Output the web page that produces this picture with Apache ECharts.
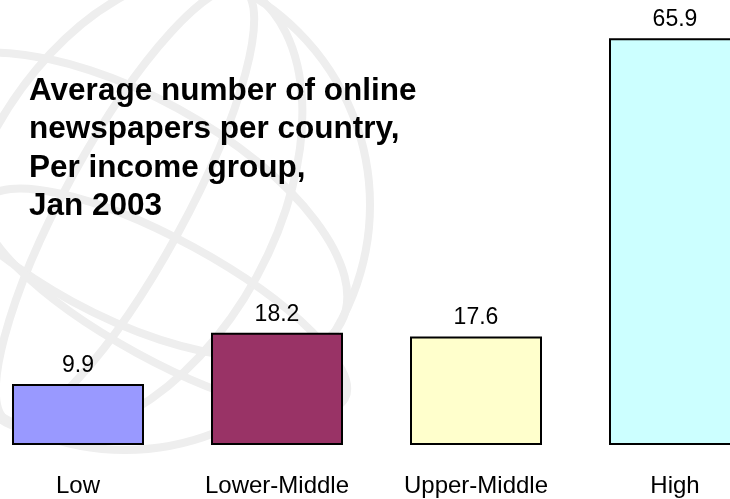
<!DOCTYPE html>
<html>
<head>
<meta charset="utf-8">
<script src="https://cdn.jsdelivr.net/npm/echarts@6/dist/echarts.min.js"></script>
<style>
  html, body { margin: 0; padding: 0; background: #fff; }
  #main { width: 730px; height: 499px; }
</style>
</head>
<body>
<div id="main"></div>
<script>
var groups = ['Low', 'Lower-Middle', 'Upper-Middle', 'High'];
var avgPapers = [9.9, 18.2, 17.6, 65.9];
var barColors = ['#9999ff', '#993366', '#ffffcc', '#ccffff'];

var myChart = echarts.init(document.getElementById('main'));

// faint globe watermark behind the chart
var gx = 125, gy = 205;
var globeStroke = { stroke: '#eeeeee', lineWidth: 8, fill: null };
var globe = [
    { type: 'circle', shape: { cx: gx, cy: gy, r: 245 } },
    { type: 'ellipse', shape: { cx: gx, cy: gy, rx: 150, ry: 248 }, rotation: -0.5 },
    { type: 'ellipse', shape: { cx: gx, cy: gy, rx: 60, ry: 246 }, rotation: -0.5 },
    { type: 'ellipse', shape: { cx: gx, cy: gy, rx: 246, ry: 110 }, rotation: -0.5 },
    { type: 'ellipse', shape: { cx: gx + 40, cy: gy + 95, rx: 205, ry: 60 }, rotation: -0.5 }
].map(function (g) {
    g.style = globeStroke;
    g.originX = g.shape.cx;
    g.originY = g.shape.cy;
    g.silent = true;
    g.z = -10;
    return g;
});

myChart.setOption({
    animation: false,
    title: {
        text: 'Average number of online\nnewspapers per country,\nPer income group,\nJan 2003',
        left: 29,
        top: 72,
        padding: 0,
        textStyle: {
            fontFamily: 'Liberation Sans',
            fontWeight: 'bold',
            fontSize: 31.5,
            lineHeight: 38.5,
            color: '#000'
        }
    },
    graphic: globe,
    grid: {
        left: -21.5,
        width: 796,
        top: 13,
        bottom: 54,
        outerBoundsMode: 'none',
        containLabel: false
    },
    xAxis: {
        type: 'category',
        data: groups,
        axisLine: { show: false },
        axisTick: { show: false },
        axisLabel: {
            margin: 29,
            fontFamily: 'Liberation Sans',
            fontSize: 24,
            color: '#000',
            interval: 0
        }
    },
    yAxis: {
        type: 'value',
        min: 0,
        max: 70,
        show: false
    },
    series: [{
        type: 'bar',
        barWidth: 132,
        data: avgPapers.map(function (v, i) {
            return { value: v, itemStyle: { color: barColors[i] } };
        }),
        itemStyle: { borderColor: '#000', borderWidth: 2 },
        label: {
            show: true,
            position: 'top',
            distance: 7,
            fontFamily: 'Liberation Sans',
            fontSize: 23,
            color: '#000'
        }
    }]
});
</script>
</body>
</html>
